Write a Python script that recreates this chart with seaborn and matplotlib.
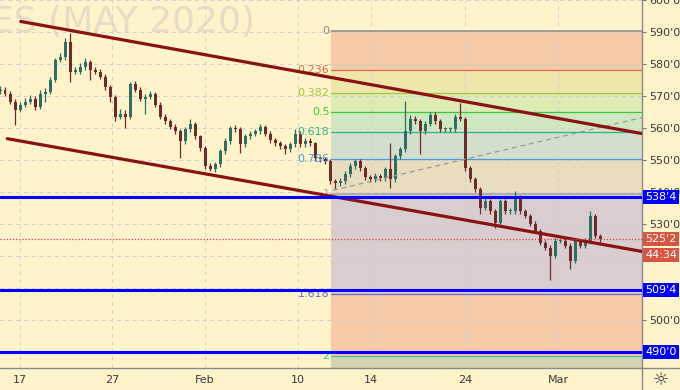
import numpy as np
import pandas as pd
import matplotlib
matplotlib.use("Agg")
import matplotlib.pyplot as plt
import matplotlib.transforms as mtransforms
from matplotlib.patches import Rectangle
import seaborn as sns

# price bars, x = bar index (one bar every 5 px of the original screenshot)
first_open = 571.5
closes = [572.0, 570.8, 568.3, 565.8, 567.3, 568.3, 569.2, 566.7, 570.8, 571.4,
          575.1, 581.3, 582.2, 586.9, 577.6, 577.6, 579.1, 580.7, 578.2, 577.6,
          576.0, 572.9, 569.8, 563.6, 564.5, 563.6, 573.9, 572.0, 569.2, 569.8,
          570.8, 567.3, 563.6, 562.1, 560.5, 559.0, 555.9, 559.6, 561.4, 557.4,
          553.7, 548.1, 547.2, 548.7, 552.8, 555.9, 559.9, 559.6, 554.9, 557.4,
          558.3, 559.0, 560.5, 558.3, 556.2, 555.2, 554.3, 553.4, 554.9, 558.3,
          554.9, 555.9, 555.2, 550.6, 550.3, 549.7, 543.4, 542.8, 543.4, 545.6,
          548.1, 549.7, 547.5, 544.7, 544.1, 545.0, 544.4, 547.2, 544.1, 551.2,
          553.4, 559.0, 563.0, 562.1, 559.0, 561.4, 564.2, 562.1, 559.6, 559.6,
          559.6, 563.6, 563.0, 547.5, 544.1, 541.0, 535.1, 537.2, 534.1, 530.4,
          537.2, 534.1, 534.1, 538.2, 534.1, 532.6, 530.1, 527.9, 524.2, 522.6,
          520.2, 524.8, 524.8, 523.3, 518.6, 524.8, 523.3, 524.8, 532.6, 526.4,
          525.25]
highs = [573.0, 572.8, 571.5, 569.0, 568.2, 569.5, 570.2, 570.0, 571.8, 572.5,
         576.0, 582.0, 583.5, 588.0, 589.7, 579.0, 580.2, 581.8, 581.3, 579.2,
         578.5, 576.8, 573.5, 570.3, 566.0, 565.5, 574.5, 574.8, 572.8, 570.8,
         571.7, 571.3, 568.0, 564.3, 562.8, 561.2, 559.8, 560.5, 563.0, 562.0,
         558.0, 554.3, 549.0, 549.5, 553.5, 556.8, 560.6, 561.1, 560.2, 558.2,
         559.1, 559.8, 561.4, 561.0, 559.0, 557.0, 556.0, 555.0, 555.6, 559.6,
         559.0, 556.8, 556.8, 555.8, 551.4, 551.0, 550.2, 544.2, 544.3, 546.5,
         549.0, 550.3, 550.4, 548.2, 545.5, 545.9, 545.8, 548.0, 555.2, 552.0,
         554.2, 568.6, 564.0, 563.8, 562.8, 562.2, 565.0, 564.9, 562.8, 560.5,
         560.4, 564.4, 567.7, 563.5, 548.2, 544.8, 541.5, 538.8, 538.0, 534.8,
         538.0, 538.0, 535.0, 540.3, 539.0, 534.9, 533.3, 530.9, 528.6, 525.0,
         523.4, 525.7, 525.7, 525.6, 524.0, 525.6, 525.5, 525.6, 534.1, 533.2,
         527.0]
lows = [570.7, 570.0, 567.5, 561.1, 565.0, 566.5, 567.5, 565.8, 566.0, 568.3,
        570.6, 574.3, 580.5, 581.4, 574.5, 576.8, 576.8, 578.3, 575.1, 576.8,
        575.2, 572.0, 568.3, 562.1, 562.8, 559.9, 562.8, 571.2, 568.4, 564.5,
        569.0, 566.5, 562.8, 561.3, 559.7, 558.2, 550.6, 555.0, 558.8, 556.6,
        552.9, 547.3, 546.5, 546.2, 548.0, 552.0, 555.1, 558.8, 552.1, 554.1,
        556.6, 557.5, 558.2, 557.5, 555.4, 554.4, 553.5, 551.8, 552.6, 554.1,
        554.1, 554.1, 554.4, 549.8, 549.5, 548.9, 542.6, 541.0, 542.0, 542.6,
        544.8, 547.3, 546.7, 543.9, 543.3, 543.3, 543.6, 543.6, 541.3, 543.3,
        550.4, 552.6, 558.2, 561.3, 551.8, 558.2, 560.6, 561.3, 558.8, 558.8,
        558.8, 558.8, 562.2, 546.7, 543.3, 540.2, 533.2, 534.3, 533.3, 528.9,
        529.6, 533.3, 533.3, 533.3, 533.3, 531.8, 529.3, 527.1, 523.4, 521.8,
        512.7, 519.4, 524.0, 522.5, 516.1, 517.8, 522.5, 522.5, 523.9, 525.6,
        524.5]

# date ticks (in bar index units)
x_ticks = [4, 22.4, 41, 59.6, 74.2, 93, 111.6]
x_labels = ["17", "27", "Feb", "10", "14", "24", "Mar"]
x_max = 128.4

# price axis (labels under the price tags are hidden, as on the screenshot)
y_min, y_max = 485.1, 599.3
y_ticks = list(range(490, 601, 10))
y_hidden = [490, 510, 520]

# fibonacci retracement
fib_high = 590.25
fib_low = 539.5
fib_start = 66.2
fib_ratios = [0, 0.236, 0.382, 0.5, 0.618, 0.786, 1, 1.618, 2, 2.618]
fib_labels = ["0", "0.236", "0.382", "0.5", "0.618", "0.786", "1", "1.618", "2", "2.618"]
fib_line_colors = ["#8c8c8c", "#e0694f", "#a2c83c", "#3cc83c", "#2db48a",
                   "#4a9dda", "#a3a3a3", "#6b6bd6", "#36c8a0", "#d05090"]
fib_fill_colors = ["#f6caa6", "#eee6aa", "#ddebb4", "#d0e8c2", "#d4decd",
                   "#e9ddc0", "#d9cdcf", "#f6caa6", "#d6d3b0"]

# trend lines
upper_x, upper_y = [4.14, x_max], [593.3, 558.3]
lower_x, lower_y = [1.46, x_max], [556.7, 521.5]
dash_x, dash_y = [66.6, x_max], [540.6, 563.3]

# horizontal levels and price tags
blue_levels = [538.5, 509.5, 490.0]
blue_labels = ["538'4", "509'4", "490'0"]
last_price = 525.25
last_label = "525'2"
timer_price = 520.5
timer_label = "44:34"

bg = "#fff3cc"
sns.set_style("white")
plt.rcParams["font.family"] = ["DejaVu Sans"]

fig = plt.figure(figsize=(6.8, 3.9), dpi=100, facecolor=bg)
ax = fig.add_axes([0, 22 / 390, 642 / 680, 368 / 390])
ax.set_facecolor(bg)
ax.set_xlim(0, x_max)
ax.set_ylim(y_min, y_max)

# watermark
ax.text(-9 / 642, 1 - 5 / 368, "ES (MAY 2020)", transform=ax.transAxes,
        fontsize=26, color="#e6dec4", ha="left", va="top", zorder=0.1, clip_on=True)

# fib bands and levels
levels = [fib_high - r * (fib_high - fib_low) for r in fib_ratios]
for i in range(len(levels) - 1):
    ax.fill_between([fib_start, x_max], levels[i + 1], levels[i],
                    color=fib_fill_colors[i], lw=0, zorder=0.2)
for lvl, lab, col in zip(levels[:-1], fib_labels[:-1], fib_line_colors[:-1]):
    ax.plot([fib_start, x_max], [lvl, lvl], color=col, lw=1.1 if lab in ("0", "1") else 0.9,
            zorder=0.6)
    ax.text(fib_start - 0.3, lvl, lab, color=col, fontsize=8, ha="right", va="center",
            zorder=3)

# grid
ax.set_axisbelow(True)
ax.grid(True, color="#cfd0d8", lw=0.7, linestyle=(0, (4, 4)))

# candles
df = pd.DataFrame({"close": closes, "high": highs, "low": lows})
df["open"] = [first_open] + closes[:-1]
df["x"] = np.arange(len(df))
up = df["close"] >= df["open"]
colors = np.where(up, "#2f6f62", "#6e2b2b")
ax.vlines(df["x"], df["low"], df["high"], colors=colors, lw=0.9, zorder=2)
body_low = df[["open", "close"]].min(axis=1)
body_h = (df["close"] - df["open"]).abs().clip(lower=0.4)
ax.bar(df["x"], body_h, bottom=body_low, width=0.6, color=colors, lw=0, zorder=2.1)

# trend lines
sns.lineplot(x=upper_x, y=upper_y, ax=ax, color="#8b1212", lw=2.3, zorder=4)
sns.lineplot(x=lower_x, y=lower_y, ax=ax, color="#8b1212", lw=2.3, zorder=4)
sns.lineplot(x=dash_x, y=dash_y, ax=ax, color="#9a9a9a", lw=0.9, zorder=3.5)
ax.lines[-1].set_linestyle((0, (4, 3)))

# horizontal levels
for lvl in blue_levels:
    ax.axhline(lvl, color="#0000ff", lw=2.2, zorder=5)
ax.axhline(last_price, color="#e04040", lw=0.9, linestyle=(0, (1, 1.5)), zorder=4.5)

# axes styling
ax.yaxis.tick_right()
ax.set_yticks(y_ticks)
ax.set_yticklabels(["" if v in y_hidden else f"{v}'0" for v in y_ticks])
ax.set_xticks(x_ticks)
ax.set_xticklabels(x_labels)
ax.tick_params(axis="both", colors="#7a7a7a", labelcolor="#3a3a3a", labelsize=8,
               length=3, width=0.8, pad=2)
for s in ["top", "left"]:
    ax.spines[s].set_visible(False)
for s in ["right", "bottom"]:
    ax.spines[s].set_color("#8a8a8a")
    ax.spines[s].set_linewidth(1.0)
ax.set_xlabel("")
ax.set_ylabel("")

# price tags on the right scale
blend = mtransforms.blended_transform_factory(fig.transFigure, ax.transData)
tag_h = 14 / 3.222
tags = [(p, t, "#0000ff") for p, t in zip(blue_levels, blue_labels)]
tags += [(last_price, last_label, "#db5442"), (timer_price, timer_label, "#db5442")]
for p, t, c in tags:
    ax.add_patch(Rectangle((643 / 680, p - tag_h / 2), 36 / 680, tag_h, transform=blend,
                           facecolor=c, edgecolor="none", clip_on=False, zorder=10))
    ax.text(661 / 680, p, t, transform=blend, color="white", fontsize=8, ha="center",
            va="center", clip_on=False, zorder=11)

# separator lines and settings icon
fig.add_artist(plt.Line2D([642 / 680, 642 / 680], [0, 22 / 390], color="#8a8a8a", lw=1.0))
fig.add_artist(plt.Line2D([642 / 680, 1], [22 / 390, 22 / 390], color="#8a8a8a", lw=1.0))
fig.text(661 / 680, 10 / 390, "\u263c", fontsize=13, color="#333333", ha="center", va="center")

fig.savefig("out.png", dpi=100, facecolor=bg)
